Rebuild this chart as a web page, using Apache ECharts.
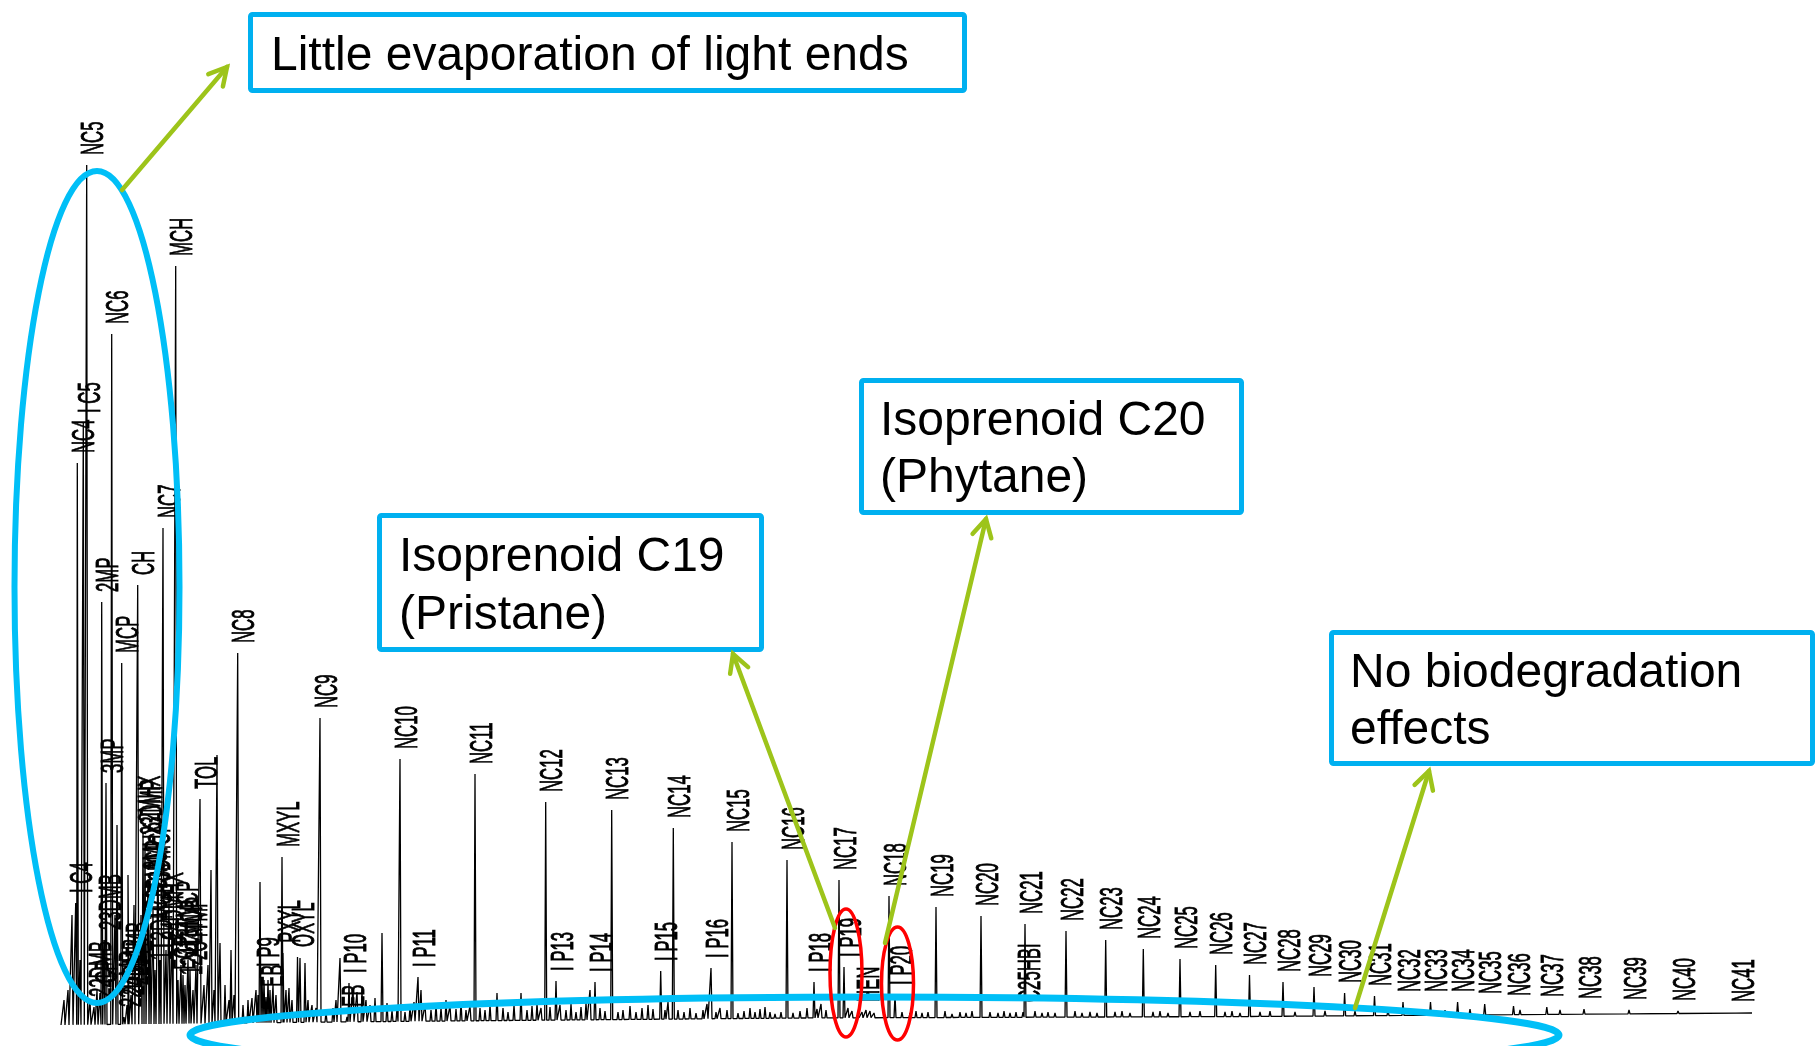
<!DOCTYPE html>
<html>
<head>
<meta charset="utf-8">
<title>Whole oil GC fingerprint</title>
<script src="https://cdn.jsdelivr.net/npm/echarts@6/dist/echarts.min.js"></script>
<style>
  html, body { margin: 0; padding: 0; background: #fff; }
  #chart { width: 1816px; height: 1046px; }
</style>
</head>
<body>
<div id="chart"></div>
<script>
// labelled peaks (scan number, abundance)
const peakNames = ['I C4', 'NC4', 'I C5', 'NC5', '22DMB', 'CP', '2MP', '23DMB', '3MP', 'NC6',
  'MCP', '22DMP', '24DMP', '223TMB', 'CH', '2MHX', '23DMP', '3MHX', '1C3DMCP', '1T3DMCP',
  '1T2DMCP', 'NC7', '24DMHX', 'MCH', 'ECP', '113TMCP', '124TMCP', '234TMP', 'TOL', 'NC8',
  'I P9', 'EB', 'MXYL', 'PXYL', 'OXYL', 'NC9', 'EB', 'I P10', 'NC10', 'I P11',
  'NC11', 'NC12', 'I P13', 'I P14', 'NC13', 'I P15', 'NC14', 'I P16', 'NC15', 'NC16',
  'I P18', 'NC17', 'I P19', 'HEN', 'NC18', 'I P20', 'NC19', 'NC20', 'C25HBI', 'NC21',
  'NC22', 'NC23', 'NC24', 'NC25', 'NC26', 'NC27', 'NC28', 'NC29', 'NC30', 'NC31',
  'NC32', 'NC33', 'NC34', 'NC35', 'NC36', 'NC37', 'NC38', 'NC39', 'NC40', 'NC41'];
const peakScans = [75.7, 77.3, 83.3, 86.7, 94, 100, 101.7, 104, 106, 111.7,
  121.7, 124, 127, 131, 137.7, 143, 145, 148, 150, 153,
  155, 163, 166, 175.7, 178, 181, 185, 190, 200, 237.7,
  262, 266, 282, 283, 297.5, 320, 347, 349, 400, 418,
  475, 545.7, 556, 595, 611.7, 660.7, 673.3, 711, 732, 787,
  814, 839, 844, 862, 889, 895, 936, 981, 1023, 1025,
  1066, 1105.7, 1143.3, 1180, 1215.7, 1249.5, 1283, 1314, 1344.6, 1374.5,
  1403, 1430.5, 1457.6, 1484.7, 1513.5, 1546.8, 1584, 1629, 1678, 1737];
const peakAbund = [122, 562, 602, 860, 18, 32, 423, 85, 242, 691,
  362, 8, 20, 30, 440, 193, 180, 145, 95, 115,
  55, 497, 75, 759, 45, 60, 40, 55, 226, 372,
  48, 28, 168, 72, 68, 307, 8, 42, 266, 48,
  251, 223, 44, 43, 215, 54, 197, 57, 183, 165,
  43, 145, 58, 13, 129, 30, 118, 109, 13, 101,
  94, 85, 76, 66, 60, 50, 43, 38, 32, 29,
  23, 23, 23, 21, 19, 18, 16, 15, 14, 13];

// unlabelled peaks and baseline grass
const minorScans = [64, 68, 72, 80, 90, 97, 115, 117, 128, 134, 141, 158, 160, 169, 172, 183, 188, 193, 196,
  204, 208, 211, 214, 217, 220, 225, 229, 231, 234, 243, 248, 252, 256, 258, 260, 264, 268, 270, 273, 276,
  286, 289, 292, 300, 305, 308, 312, 316, 326, 333, 336, 340, 353, 357, 362, 366, 370, 375, 382, 387,
  392, 397, 405, 410, 414, 421, 425, 431, 436, 441, 446, 450, 456, 461, 466, 470, 480, 485, 490, 497,
  503, 508, 514, 521, 527, 532, 537, 541, 550, 560, 566, 571, 576, 581, 586, 590, 600, 605, 618, 623,
  630, 636, 642, 648, 653, 665, 668, 678, 684, 690, 696, 703, 707, 716, 720, 727, 738, 744, 750, 755,
  760, 765, 770, 775, 781, 793, 800, 807, 817, 821, 826, 848, 852, 858, 866, 870, 874, 902, 910, 916,
  922, 928, 945, 952, 960, 966, 972, 990, 998, 1004, 1010, 1016, 1035, 1042, 1048, 1055, 1075, 1082, 1090,
  1097, 1115, 1122, 1130, 1153, 1160, 1168, 1190, 1200, 1225, 1232, 1240, 1260, 1270, 1295, 1325, 1355, 1388,
  1445, 1470, 1520, 1560];
const minorAbund = [25, 35, 110, 65, 25, 35, 110, 200, 150, 120, 110, 182, 65, 125, 95, 50, 65, 35, 60,
  40, 60, 155, 35, 270, 82, 40, 25, 75, 30, 20, 25, 27, 35, 30, 143, 45, 45, 35, 40, 30,
  35, 37, 25, 67, 62, 25, 20, 17, 13, 17, 25, 67, 37, 33, 35, 25, 20, 27, 92, 22,
  15, 17, 13, 19, 23, 35, 20, 15, 21, 17, 25, 19, 16, 23, 15, 19, 17, 15, 20, 32,
  17, 13, 20, 32, 15, 19, 22, 17, 18, 20, 15, 21, 13, 18, 22, 35, 17, 14, 13, 15,
  19, 13, 17, 20, 16, 15, 23, 15, 13, 17, 12, 15, 21, 13, 17, 15, 12, 14, 17, 13,
  16, 18, 13, 11, 13, 12, 14, 17, 16, 21, 15, 17, 14, 11, 15, 14, 12, 13, 12, 14,
  12, 13, 14, 11, 13, 12, 14, 13, 12, 14, 12, 13, 14, 12, 13, 12, 14, 12, 13,
  12, 13, 14, 12, 13, 14, 12, 13, 14, 13, 14, 12, 13, 14, 13, 14, 14, 15,
  15, 16, 15, 15];

// baseline drift of the trace
const driftScans = [61, 330, 800, 1250, 1752];
const driftAbund = [0, 3, 7, 8.5, 12];

const BLUE = '#00B0F0';
const GREEN = '#9DC41A';
const LABEL_FONT = '"Liberation Sans", Arial, sans-serif';

function drift(x) {
  for (let i = 1; i < driftScans.length; i++) {
    if (x <= driftScans[i]) {
      const t = (x - driftScans[i - 1]) / (driftScans[i] - driftScans[i - 1]);
      return driftAbund[i - 1] + t * (driftAbund[i] - driftAbund[i - 1]);
    }
  }
  return driftAbund[driftAbund.length - 1];
}

// trace: each peak is a narrow spike on the drifting baseline
const peaks = peakScans.map((x, i) => [x, peakAbund[i]])
  .concat(minorScans.map((x, i) => [x, minorAbund[i]]))
  .sort((a, b) => a[0] - b[0]);
const trace = [[driftScans[0], driftAbund[0]]];
peaks.forEach(([x, h]) => {
  trace.push([x - 1, drift(x - 1)], [x, Math.max(h, drift(x))], [x + 1, drift(x + 1)]);
});
const lastScan = driftScans[driftScans.length - 1];
trace.push([lastScan, drift(lastScan)]);

function arrow(x1, y1, x2, y2) {
  const a = Math.atan2(y2 - y1, x2 - x1), L = 20, w = 0.5;
  const st = { stroke: GREEN, lineWidth: 4.5, lineCap: 'round', fill: null };
  return [
    { type: 'line', z: 120, shape: { x1, y1, x2, y2 }, style: st },
    { type: 'polyline', z: 120, shape: { points: [
      [x2 - L * Math.cos(a - w), y2 - L * Math.sin(a - w)], [x2, y2],
      [x2 - L * Math.cos(a + w), y2 - L * Math.sin(a + w)]] }, style: st }
  ];
}

function box(x, y, w, h, lines, tx, ty) {
  const els = [{ type: 'rect', z: 110, shape: { x, y, width: w, height: h, r: 2 },
    style: { fill: '#fff', stroke: BLUE, lineWidth: 5 } }];
  lines.forEach((t, i) => els.push({ type: 'text', z: 111, x: tx, y: ty[i],
    style: { text: t, fontSize: 48, fontFamily: LABEL_FONT, fill: '#000', align: 'left', verticalAlign: 'middle' } }));
  return els;
}

function ellipse(cx, cy, rx, ry, color, lw) {
  return { type: 'ellipse', z: 105, shape: { cx, cy, rx, ry },
    style: { fill: 'rgba(0,0,0,0)', stroke: color, lineWidth: lw } };
}

const chart = echarts.init(document.getElementById('chart'));
chart.setOption({
  animation: false,
  backgroundColor: '#fff',
  grid: { left: 0, right: 0, top: 25, bottom: 21 },
  xAxis: { type: 'value', min: 0, max: 1816, show: false },
  yAxis: { type: 'value', min: 0, max: 1000, show: false },
  series: [
    {
      type: 'line',
      data: trace,
      showSymbol: false,
      silent: true,
      lineStyle: { color: '#000', width: 1.3 }
    },
    {
      type: 'custom',
      silent: true,
      data: peakScans.map((x, i) => [x, peakAbund[i]]),
      encode: { x: 0, y: 1 },
      renderItem(params, api) {
        const p = api.coord([api.value(0), api.value(1)]);
        return {
          type: 'text', x: p[0] + 8, y: p[1] - 10, rotation: Math.PI / 2, scaleX: 0.54,
          style: { text: peakNames[params.dataIndex], fontSize: 31, fontFamily: LABEL_FONT,
            fill: '#000', stroke: '#000', lineWidth: 0.9, align: 'left', verticalAlign: 'middle' }
        };
      }
    }
  ],
  graphic: [
    ellipse(97, 587, 82.5, 416, '#00BFF7', 6),
    ellipse(874.5, 1035, 684.5, 38, '#00BFF7', 7),
    ellipse(846, 973, 16, 64, '#FF0000', 3.5),
    ellipse(897.5, 983.5, 16, 56.5, '#FF0000', 3.5),
    ...arrow(122, 190, 227, 67),
    ...arrow(835, 928, 733, 654),
    ...arrow(885, 943, 986, 519),
    ...arrow(1355, 1008, 1429, 771),
    ...box(250.5, 14.5, 714, 76, ['Little evaporation of light ends'], 271, [56.5]),
    ...box(379.5, 515.5, 382, 134, ['Isoprenoid C19', '(Pristane)'], 399, [557.5, 615.5]),
    ...box(861.5, 380.5, 380, 132, ['Isoprenoid C20', '(Phytane)'], 880, [421.5, 478.5]),
    ...box(1331.5, 632.5, 481, 131, ['No biodegradation', 'effects'], 1350, [674, 731])
  ]
});
</script>
</body>
</html>
